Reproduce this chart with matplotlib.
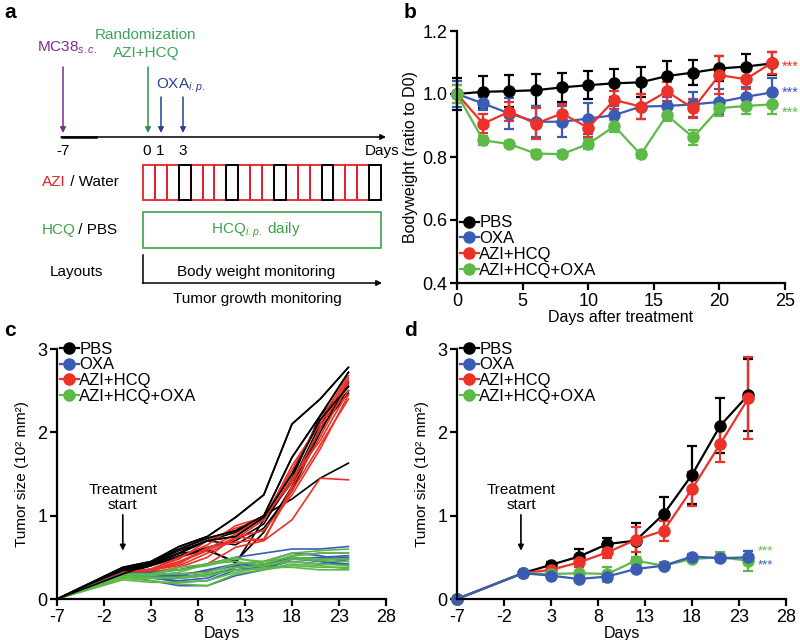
import matplotlib
matplotlib.use("Agg")
import matplotlib.pyplot as plt
from matplotlib.lines import Line2D
from matplotlib.patches import Rectangle

plt.rcParams['font.family'] = ['Liberation Sans', 'DejaVu Sans']
plt.rcParams['mathtext.fontset'] = 'custom'
plt.rcParams['mathtext.rm'] = 'Liberation Sans'
plt.rcParams['mathtext.it'] = 'Liberation Sans:italic'
plt.rcParams['axes.unicode_minus'] = False

# ---------------- data ----------------
groups = ["PBS", "OXA", "AZI+HCQ", "AZI+HCQ+OXA"]
colors = {"PBS": "#000000", "OXA": "#3a5cb5", "AZI+HCQ": "#ec3228", "AZI+HCQ+OXA": "#5dba47"}

# panel b: body weight
bw_days = [0, 2, 4, 6, 8, 10, 12, 14, 16, 18, 20, 22, 24]
bw_pbs = [1.0, 1.007, 1.009, 1.012, 1.021, 1.028, 1.034, 1.037, 1.057, 1.068, 1.081, 1.087, 1.097]
bw_oxa = [1.0, 0.970, 0.938, 0.912, 0.912, 0.922, 0.933, 0.960, 0.962, 0.967, 0.975, 0.991, 1.005]
bw_azi = [1.0, 0.906, 0.944, 0.906, 0.938, 0.893, 0.981, 0.960, 1.008, 0.954, 1.060, 1.047, 1.099]
bw_combo = [1.0, 0.853, 0.841, 0.811, 0.809, 0.841, 0.898, 0.808, 0.933, 0.862, 0.955, 0.962, 0.967]
bw_pbs_err = [0.05, 0.05, 0.05, 0.05, 0.045, 0.045, 0.045, 0.048, 0.048, 0.04, 0.04, 0.04, 0.037]
bw_oxa_err = [0.04, 0.02, 0.05, 0.05, 0.05, 0.05, 0.03, 0.04, 0.03, 0.04, 0.04, 0.03, 0.045]
bw_azi_err = [0.03, 0.03, 0.03, 0.05, 0.03, 0.03, 0.03, 0.04, 0.03, 0.03, 0.06, 0.03, 0.035]
bw_combo_err = [0.03, 0.015, 0.01, 0.01, 0.01, 0.015, 0.02, 0.01, 0.02, 0.025, 0.025, 0.025, 0.03]

# panels c/d: tumor size
t_days = [-7, 0, 3, 6, 9, 12, 15, 18, 21, 24]
pbs_ind = [
    [0, 0.38, 0.45, 0.63, 0.75, 0.98, 1.25, 2.10, 2.40, 2.78],
    [0, 0.36, 0.44, 0.60, 0.73, 0.82, 1.00, 1.70, 2.20, 2.72],
    [0, 0.30, 0.42, 0.55, 0.70, 0.75, 0.98, 1.50, 2.15, 2.55],
    [0, 0.32, 0.40, 0.50, 0.60, 0.43, 0.95, 1.40, 2.10, 2.50],
    [0, 0.30, 0.40, 0.55, 0.70, 0.80, 1.00, 1.20, 1.45, 1.63],
    [0, 0.33, 0.42, 0.55, 0.58, 0.45, 0.80, 1.35, 2.05, 2.47],
    [0, 0.31, 0.40, 0.52, 0.62, 0.70, 0.90, 1.45, 2.20, 2.55],
    [0, 0.34, 0.43, 0.58, 0.70, 0.65, 0.85, 1.30, 2.00, 2.60],
]
azi_ind = [
    [0, 0.28, 0.35, 0.45, 0.60, 0.78, 0.98, 1.55, 2.15, 2.68],
    [0, 0.30, 0.35, 0.40, 0.55, 0.72, 0.95, 1.60, 2.10, 2.65],
    [0, 0.29, 0.33, 0.35, 0.42, 0.62, 0.70, 1.35, 1.95, 2.58],
    [0, 0.31, 0.36, 0.48, 0.70, 0.85, 0.95, 1.45, 1.90, 2.50],
    [0, 0.30, 0.34, 0.42, 0.62, 0.68, 0.72, 1.30, 1.85, 2.40],
    [0, 0.28, 0.32, 0.38, 0.50, 0.75, 0.70, 0.95, 1.45, 1.43],
    [0, 0.32, 0.36, 0.50, 0.65, 0.88, 0.98, 1.40, 2.05, 2.62],
    [0, 0.29, 0.34, 0.44, 0.58, 0.74, 0.82, 1.25, 1.80, 2.45],
]
oxa_ind = [
    [0, 0.30, 0.32, 0.35, 0.42, 0.50, 0.55, 0.60, 0.60, 0.63],
    [0, 0.28, 0.25, 0.22, 0.25, 0.38, 0.40, 0.52, 0.55, 0.55],
    [0, 0.27, 0.22, 0.16, 0.16, 0.28, 0.35, 0.48, 0.50, 0.52],
    [0, 0.30, 0.28, 0.25, 0.28, 0.38, 0.42, 0.50, 0.48, 0.50],
    [0, 0.29, 0.26, 0.20, 0.22, 0.35, 0.38, 0.45, 0.42, 0.48],
    [0, 0.31, 0.30, 0.30, 0.33, 0.40, 0.45, 0.55, 0.52, 0.45],
    [0, 0.28, 0.27, 0.27, 0.30, 0.35, 0.38, 0.48, 0.45, 0.42],
    [0, 0.30, 0.29, 0.28, 0.35, 0.42, 0.40, 0.50, 0.45, 0.40],
]
combo_ind = [
    [0, 0.25, 0.22, 0.18, 0.16, 0.30, 0.35, 0.40, 0.38, 0.38],
    [0, 0.23, 0.20, 0.20, 0.22, 0.32, 0.38, 0.38, 0.35, 0.35],
    [0, 0.28, 0.30, 0.30, 0.32, 0.42, 0.45, 0.55, 0.58, 0.60],
    [0, 0.27, 0.28, 0.32, 0.42, 0.50, 0.42, 0.52, 0.55, 0.55],
    [0, 0.30, 0.30, 0.35, 0.40, 0.48, 0.45, 0.50, 0.48, 0.48],
    [0, 0.26, 0.26, 0.26, 0.30, 0.38, 0.40, 0.45, 0.42, 0.40],
    [0, 0.29, 0.30, 0.38, 0.42, 0.45, 0.40, 0.48, 0.46, 0.45],
    [0, 0.25, 0.25, 0.25, 0.28, 0.35, 0.36, 0.42, 0.40, 0.36],
]
t_pbs = [0, 0.31, 0.41, 0.51, 0.66, 0.70, 1.02, 1.49, 2.08, 2.45]
t_oxa = [0, 0.31, 0.28, 0.24, 0.27, 0.36, 0.40, 0.51, 0.49, 0.50]
t_azi = [0, 0.31, 0.35, 0.44, 0.56, 0.71, 0.82, 1.32, 1.86, 2.41]
t_combo = [0, 0.31, 0.30, 0.31, 0.30, 0.46, 0.40, 0.48, 0.50, 0.46]
t_pbs_err = [0, 0.02, 0.03, 0.09, 0.07, 0.21, 0.20, 0.35, 0.33, 0.43]
t_oxa_err = [0, 0.02, 0.03, 0.03, 0.04, 0.03, 0.03, 0.03, 0.03, 0.08]
t_azi_err = [0, 0.02, 0.03, 0.05, 0.07, 0.15, 0.12, 0.20, 0.21, 0.49]
t_combo_err = [0, 0.02, 0.03, 0.03, 0.09, 0.04, 0.04, 0.04, 0.06, 0.12]

# ---------------- figure ----------------
fig = plt.figure(figsize=(8, 6.4), dpi=100)
TICK_FS = 13
LAB_FS = 11.5
STAR_FS = 10.5


def style_axes(ax):
    for s in ["top", "right"]:
        ax.spines[s].set_visible(False)
    for s in ["left", "bottom"]:
        ax.spines[s].set_linewidth(1.6)
    ax.tick_params(direction="out", length=5, width=1.6, labelsize=TICK_FS, pad=2)


def legend(ax, loc, anchor):
    handles = [Line2D([0], [0], color=colors[g], marker="o", markersize=8, lw=1.6) for g in groups]
    ax.legend(handles, groups, loc=loc, bbox_to_anchor=anchor, frameon=False,
              handlelength=1.1, handletextpad=0.05, labelspacing=0.05, fontsize=12,
              borderaxespad=0, borderpad=0)


# ---------- panel a (schematic) ----------
axa = fig.add_axes([0, 0.5, 0.5, 0.5])
axa.set_xlim(0, 400)
axa.set_ylim(320, 0)
axa.axis("off")
FS_A = 11
purple = "#7b2d8e"
dgreen = "#3aa55a"
dblue = "#2e3f8f"
red_a = "#e8202a"
green_a = "#3ca24a"

axa.text(146, 35, "Randomization", color=dgreen, fontsize=FS_A, ha="center", va="center")
axa.text(146, 53, "AZI+HCQ", color=dgreen, fontsize=FS_A, ha="center", va="center")
axa.text(37, 48, r"MC38$_{\mathit{s.c.}}$", color=purple, fontsize=FS_A, ha="left", va="center")
axa.text(156, 86, r"OXA$_{\mathit{i.p.}}$", color=dblue, fontsize=FS_A, ha="left", va="center")


def arrow(x, y0, y1, c):
    axa.annotate("", xy=(x, y1), xytext=(x, y0),
                 arrowprops=dict(arrowstyle="-|>", color=c, lw=1.1, mutation_scale=8, shrinkA=0, shrinkB=0))


arrow(63, 67, 133, purple)
arrow(148, 67, 133, "#2f8f4a")
arrow(161, 97, 133, dblue)
arrow(183, 97, 133, dblue)
axa.annotate("", xy=(386, 137), xytext=(61, 137),
             arrowprops=dict(arrowstyle="-|>", color="black", lw=1.1, mutation_scale=8, shrinkA=0, shrinkB=0))
axa.plot([62, 96], [137, 137], color="black", lw=1.8)
for x, s in [(63, "-7"), (147, "0"), (160, "1"), (183, "3")]:
    axa.text(x, 151, s, fontsize=FS_A, ha="center", va="center")
axa.text(399, 151, "Days", fontsize=FS_A, ha="right", va="center")

# AZI / Water box with 20 daily cells
x0, x1 = 143, 381
n = 20
w = (x1 - x0) / n
for i in range(n):
    c = "black" if i % 4 == 3 else red_a
    axa.add_patch(Rectangle((x0 + i * w, 165), w, 35, fill=False, ec=c, lw=1.3))
for i in range(n):
    if i % 4 == 3:
        axa.add_patch(Rectangle((x0 + i * w, 165), w, 35, fill=False, ec="black", lw=1.3, zorder=3))
axa.text(42, 182, "AZI", color=red_a, fontsize=FS_A, ha="left", va="center")
axa.text(66, 182, " / Water", color="black", fontsize=FS_A, ha="left", va="center")

axa.add_patch(Rectangle((x0, 212), x1 - x0, 36, fill=False, ec=green_a, lw=1.2))
axa.text(256, 230, r"HCQ$_{\mathit{i.p.}}$ daily", color=green_a, fontsize=FS_A, ha="center", va="center")
axa.text(42, 230, "HCQ", color=green_a, fontsize=FS_A, ha="left", va="center")
axa.text(74, 230, " / PBS", color="black", fontsize=FS_A, ha="left", va="center")

axa.text(50, 272, "Layouts", fontsize=FS_A, ha="left", va="center")
axa.plot([143, 143], [255, 283], color="black", lw=1.1)
axa.annotate("", xy=(382, 283), xytext=(142.5, 283),
             arrowprops=dict(arrowstyle="-|>", color="black", lw=1.1, mutation_scale=8, shrinkA=0, shrinkB=0))
axa.text(256, 272, "Body weight monitoring", fontsize=FS_A, ha="center", va="center")
axa.text(257, 299, "Tumor growth monitoring", fontsize=FS_A, ha="center", va="center")

# ---------- panel b ----------
axb = fig.add_axes([457 / 800, 1 - 283 / 640, 328 / 800, 252 / 640])
style_axes(axb)
for g, y, e in [("PBS", bw_pbs, bw_pbs_err), ("OXA", bw_oxa, bw_oxa_err),
                ("AZI+HCQ", bw_azi, bw_azi_err), ("AZI+HCQ+OXA", bw_combo, bw_combo_err)]:
    axb.errorbar(bw_days, y, yerr=e, color=colors[g], marker="o", markersize=8, lw=1.6,
                 capsize=3.5, capthick=1.6, elinewidth=1.6, clip_on=False)
axb.set_xlim(0, 25)
axb.set_ylim(0.4, 1.2)
axb.set_xticks([0, 5, 10, 15, 20, 25])
axb.set_yticks([0.4, 0.6, 0.8, 1.0, 1.2])
axb.set_yticklabels(["0.4", "0.6", "0.8", "1.0", "1.2"])
axb.set_xlabel("Days after treatment", fontsize=LAB_FS, labelpad=0)
axb.set_ylabel("Bodyweight (ratio to D0)", fontsize=LAB_FS, labelpad=3)
legend(axb, "lower left", (0.01, 0.02))
for g, yv in [("AZI+HCQ", bw_azi[-1]), ("OXA", bw_oxa[-1] + 0.012), ("AZI+HCQ+OXA", bw_combo[-1] - 0.012)]:
    axb.text(24.75, yv - 0.014, "***", color=colors[g], fontsize=STAR_FS, ha="left", va="center", clip_on=False)

# ---------- panel c ----------
axc = fig.add_axes([57 / 800, 1 - 599 / 640, 329 / 800, 250 / 640])
style_axes(axc)
for g, lines in [("PBS", pbs_ind), ("AZI+HCQ", azi_ind), ("OXA", oxa_ind), ("AZI+HCQ+OXA", combo_ind)]:
    for y in lines:
        axc.plot(t_days, y, color=colors[g], lw=1.2)
for y in pbs_ind[:3]:
    axc.plot(t_days, y, color=colors["PBS"], lw=1.2)

# ---------- panel d ----------
axd = fig.add_axes([457 / 800, 1 - 599 / 640, 329 / 800, 250 / 640])
style_axes(axd)
for g, y, e in [("PBS", t_pbs, t_pbs_err), ("AZI+HCQ", t_azi, t_azi_err),
                ("AZI+HCQ+OXA", t_combo, t_combo_err), ("OXA", t_oxa, t_oxa_err)]:
    axd.errorbar(t_days, y, yerr=e, color=colors[g], marker="o", markersize=8, lw=1.6,
                 capsize=3.5, capthick=1.6, elinewidth=1.6, clip_on=False)
axd.text(25.0, 0.57, "***", color=colors["AZI+HCQ+OXA"], fontsize=STAR_FS - 1, ha="left", va="center")
axd.text(25.0, 0.40, "***", color=colors["OXA"], fontsize=STAR_FS - 1, ha="left", va="center")

for ax, xa in [(axc, 0), (axd, -0.2)]:
    ax.set_xlim(-7, 28)
    ax.set_ylim(0, 3)
    ax.set_xticks([-7, -2, 3, 8, 13, 18, 23, 28])
    ax.set_yticks([0, 1, 2, 3])
    ax.set_xlabel("Days", fontsize=LAB_FS, labelpad=0)
    ax.set_ylabel("Tumor size (10² mm²)", fontsize=11, labelpad=6)
    ax.text(xa, 1.31, "Treatment", fontsize=11, ha="center", va="center")
    ax.text(xa, 1.13, "start", fontsize=11, ha="center", va="center")
    ax.annotate("", xy=(xa, 0.58), xytext=(xa, 1.01),
                arrowprops=dict(arrowstyle="-|>", color="black", lw=1.2, mutation_scale=8, shrinkA=0, shrinkB=0))
    legend(ax, "upper left", (0.01, 1.03))

# panel letters
for s, x, y in [("a", 4, 12), ("b", 404, 12), ("c", 4, 330), ("d", 404, 330)]:
    fig.text(x / 800, 1 - y / 640, s, fontsize=15, fontweight="bold", ha="left", va="center")

fig.savefig("out.png", dpi=100)
